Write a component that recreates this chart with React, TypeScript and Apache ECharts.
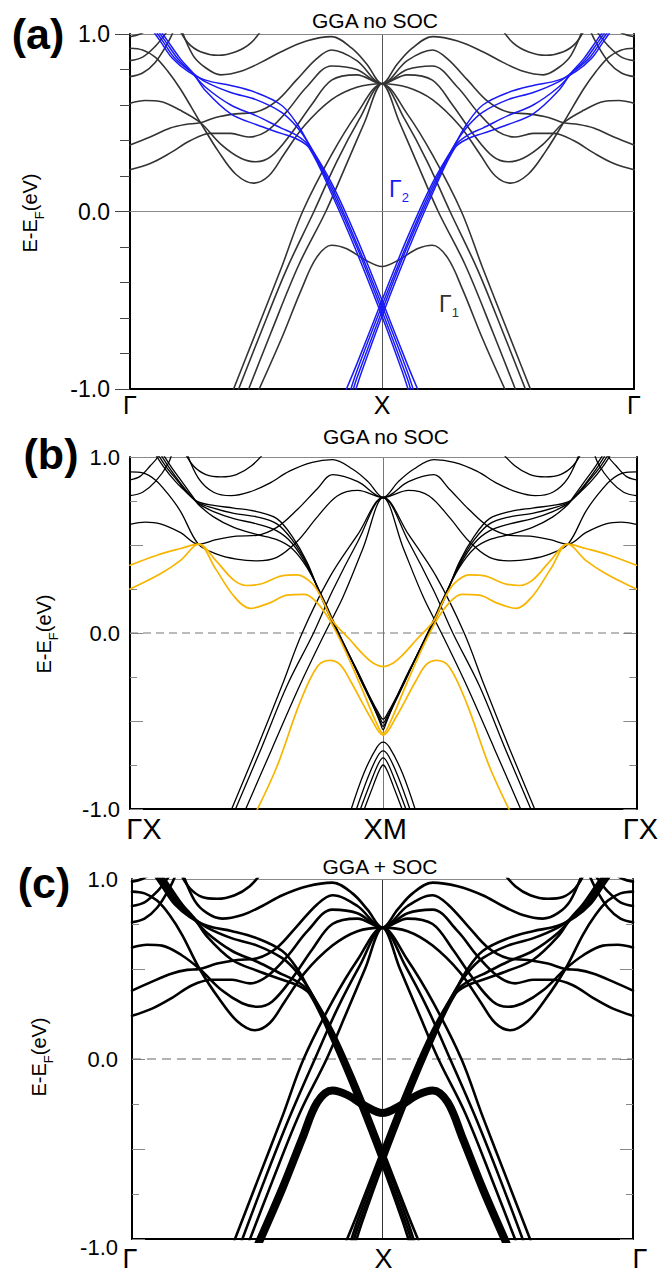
import React, { useEffect, useRef } from "react";
import * as echarts from "echarts";

type P = [number, number];

const FONT = "'Liberation Sans', Arial, Helvetica, sans-serif";

// ================= Panel (a): GGA no SOC =================
// Left halves of bands, k: 0 = Γ, 1 = X (mirrored to X–Γ), E in eV
const aTop1: P[] = [[0, 0.985], [0.04, 1.0], [0.09, 1.04]];
const aTop2: P[] = [[0, 0.85], [0.05, 0.87], [0.1, 0.93], [0.14, 1.0], [0.16, 1.04]];
const aTop3: P[] = [[0, 0.76], [0.05, 0.78], [0.1, 0.84], [0.15, 0.95], [0.18, 1.04]];
const aU1: P[] = [[0.19, 1.04], [0.23, 0.95], [0.28, 0.9], [0.35, 0.88], [0.42, 0.9], [0.48, 0.95], [0.53, 1.04]];
const aU2: P[] = [[0.2, 1.04], [0.25, 0.88], [0.3, 0.81], [0.36, 0.77], [0.44, 0.79], [0.52, 0.84], [0.6, 0.9], [0.7, 0.96], [0.8, 0.985], [0.88, 0.92], [0.94, 0.83], [1, 0.72]];
const aA: P[] = [[0, 0.92], [0.05, 0.91], [0.1, 0.87], [0.15, 0.79], [0.2, 0.69], [0.28, 0.5], [0.35, 0.34], [0.42, 0.21], [0.49, 0.16], [0.55, 0.2], [0.61, 0.32], [0.69, 0.48], [0.8, 0.63], [0.9, 0.7], [1, 0.72]];
const aB: P[] = [[0, 0.61], [0.06, 0.625], [0.12, 0.62], [0.2, 0.57], [0.28, 0.5], [0.36, 0.38], [0.44, 0.3], [0.5, 0.28], [0.56, 0.31], [0.64, 0.44], [0.72, 0.6], [0.8, 0.74], [0.9, 0.77], [1, 0.72]];
const aC: P[] = [[0, 0.235], [0.08, 0.27], [0.16, 0.33], [0.24, 0.4], [0.32, 0.44], [0.4, 0.44], [0.47, 0.42], [0.54, 0.45], [0.62, 0.56], [0.7, 0.7], [0.8, 0.82], [0.9, 0.8], [1, 0.72]];
const aD: P[] = [[0, 0.375], [0.08, 0.42], [0.16, 0.47], [0.22, 0.49], [0.28, 0.5], [0.34, 0.53], [0.42, 0.55], [0.5, 0.56], [0.58, 0.62], [0.66, 0.74], [0.74, 0.86], [0.8, 0.91], [0.9, 0.85], [1, 0.72]];
const aS1: P[] = [[0.4, -1.04], [0.5, -0.68], [0.6, -0.32], [0.685, 0], [0.8, 0.32], [0.9, 0.55], [1, 0.72]];
const aS2: P[] = [[0.42, -1.04], [0.52, -0.68], [0.62, -0.33], [0.73, 0], [0.82, 0.28], [0.91, 0.52], [1, 0.72]];
const aS3: P[] = [[0.46, -1.04], [0.56, -0.68], [0.67, -0.3], [0.777, 0], [0.86, 0.27], [0.93, 0.5], [1, 0.72]];
const aG1: P[] = [[0.5, -1.04], [0.6, -0.72], [0.68, -0.44], [0.74, -0.26], [0.8, -0.19], [0.86, -0.21], [0.93, -0.27], [1, -0.31]];
// Γ2 (blue) bands run through X; mirrored copies added
const aBlue1: P[] = [[0.08, 1.04], [0.12, 0.96], [0.17, 0.86], [0.23, 0.79], [0.3, 0.74], [0.4, 0.71], [0.5, 0.67], [0.6, 0.6], [0.66, 0.5], [0.71, 0.38], [0.8, 0.16], [0.9, -0.15], [1.0, -0.5], [1.1, -0.86], [1.15, -1.03]];
const aBlue2: P[] = [[0.09, 1.04], [0.13, 0.96], [0.18, 0.86], [0.24, 0.79], [0.3, 0.73], [0.4, 0.67], [0.5, 0.63], [0.6, 0.56], [0.66, 0.48], [0.71, 0.38], [0.8, 0.14], [0.9, -0.18], [1.0, -0.53], [1.1, -0.9], [1.13, -1.03]];
const aBlue3: P[] = [[0.1, 1.04], [0.14, 0.96], [0.19, 0.86], [0.24, 0.79], [0.3, 0.7], [0.4, 0.6], [0.5, 0.54], [0.6, 0.47], [0.66, 0.43], [0.71, 0.37], [0.8, 0.12], [0.9, -0.2], [1.0, -0.56], [1.1, -0.94], [1.12, -1.03]];
const aBlue4: P[] = [[0.11, 1.04], [0.15, 0.96], [0.2, 0.86], [0.25, 0.78], [0.3, 0.68], [0.4, 0.55], [0.5, 0.49], [0.6, 0.44], [0.66, 0.41], [0.71, 0.36], [0.8, 0.1], [0.9, -0.23], [1.0, -0.59], [1.08, -0.9], [1.11, -1.03]];

// ================= Panel (b): GGA no SOC (ΓX–XM–ΓX) =================
const bTop1: P[] = [[0, 0.87], [0.04, 0.89], [0.08, 0.95], [0.11, 1.0], [0.12, 1.04]];
const bTop2: P[] = [[0, 0.78], [0.05, 0.8], [0.1, 0.86], [0.15, 0.96], [0.17, 1.04]];
const bU1: P[] = [[0.21, 1.04], [0.25, 0.95], [0.3, 0.9], [0.36, 0.887], [0.42, 0.9], [0.48, 0.95], [0.54, 1.04]];
const bU2: P[] = [[0.22, 1.04], [0.27, 0.88], [0.33, 0.8], [0.4, 0.78], [0.47, 0.8], [0.55, 0.85], [0.63, 0.92], [0.72, 0.97], [0.8, 0.985], [0.88, 0.93], [0.94, 0.86], [1, 0.77]];
const bDiag: P[] = [[0, 0.916], [0.05, 0.91], [0.1, 0.87], [0.15, 0.79], [0.2, 0.69], [0.27, 0.505], [0.34, 0.45], [0.42, 0.42], [0.5, 0.41], [0.58, 0.43], [0.66, 0.52], [0.74, 0.66], [0.82, 0.78], [0.9, 0.81], [1, 0.77]];
const bD: P[] = [[0, 0.617], [0.06, 0.63], [0.12, 0.62], [0.2, 0.57], [0.27, 0.505], [0.34, 0.53], [0.42, 0.55], [0.5, 0.555], [0.58, 0.6], [0.66, 0.7], [0.74, 0.82], [0.8, 0.9], [0.9, 0.86], [1, 0.77]];
const bV1: P[] = [[0.09, 1.04], [0.13, 0.95], [0.18, 0.86], [0.23, 0.79], [0.27, 0.745], [0.33, 0.725], [0.41, 0.71], [0.5, 0.69], [0.58, 0.65], [0.64, 0.55], [0.7, 0.4], [0.75, 0.22], [0.8, 0.06], [0.85, -0.08], [0.9, -0.22], [0.95, -0.37], [0.98, -0.45], [1, -0.49]];
const bV2: P[] = [[0.1, 1.04], [0.14, 0.95], [0.19, 0.86], [0.23, 0.79], [0.27, 0.74], [0.33, 0.71], [0.41, 0.68], [0.5, 0.66], [0.58, 0.62], [0.64, 0.53], [0.7, 0.39], [0.755, 0.21], [0.805, 0.05], [0.855, -0.1], [0.905, -0.24], [0.955, -0.39], [0.983, -0.47], [1, -0.51]];
const bV3: P[] = [[0.11, 1.04], [0.15, 0.95], [0.2, 0.85], [0.24, 0.78], [0.27, 0.735], [0.33, 0.69], [0.41, 0.65], [0.5, 0.62], [0.58, 0.58], [0.64, 0.51], [0.7, 0.38], [0.76, 0.2], [0.81, 0.04], [0.86, -0.11], [0.91, -0.26], [0.96, -0.41], [0.985, -0.49], [1, -0.53]];
const bV4: P[] = [[0.12, 1.04], [0.16, 0.95], [0.21, 0.85], [0.25, 0.77], [0.27, 0.73], [0.33, 0.66], [0.41, 0.6], [0.5, 0.56], [0.58, 0.53], [0.64, 0.48], [0.7, 0.37], [0.765, 0.19], [0.815, 0.03], [0.865, -0.12], [0.915, -0.28], [0.965, -0.43], [0.988, -0.51], [1, -0.55]];
const bS1: P[] = [[0.39, -1.04], [0.5, -0.66], [0.6, -0.3], [0.68, 0], [0.79, 0.32], [0.9, 0.56], [1, 0.77]];
const bS2: P[] = [[0.405, -1.04], [0.52, -0.65], [0.62, -0.3], [0.725, 0], [0.8, 0.24], [0.9, 0.52], [1, 0.77]];
const bS3: P[] = [[0.445, -1.04], [0.56, -0.66], [0.67, -0.3], [0.77, 0], [0.84, 0.2], [0.92, 0.48], [1, 0.77]];
const bL1: P[] = [[0.865, -1.04], [0.923, -0.8], [0.975, -0.65], [1, -0.62]];
const bL2: P[] = [[0.885, -1.04], [0.94, -0.82], [0.978, -0.7], [1, -0.67]];
const bL3: P[] = [[0.9, -1.04], [0.95, -0.85], [0.982, -0.74], [1, -0.71]];
const bL4: P[] = [[0.915, -1.04], [0.96, -0.87], [0.985, -0.78], [1, -0.75]];
const bO1: P[] = [[0, 0.385], [0.107, 0.442], [0.2, 0.48], [0.27, 0.505], [0.34, 0.41], [0.41, 0.3], [0.46, 0.27], [0.52, 0.28], [0.6, 0.325], [0.66, 0.33], [0.72, 0.28], [0.76, 0.19], [0.8, 0.07], [0.87, -0.04], [0.92, -0.12], [0.96, -0.17], [1, -0.19]];
const bO2: P[] = [[0, 0.25], [0.12, 0.337], [0.2, 0.413], [0.27, 0.505], [0.34, 0.36], [0.41, 0.21], [0.475, 0.14], [0.55, 0.17], [0.62, 0.215], [0.69, 0.22], [0.74, 0.17], [0.79, 0.07], [0.85, -0.1], [0.92, -0.33], [0.97, -0.5], [1, -0.57]];
const bO3: P[] = [[0.49, -1.04], [0.58, -0.76], [0.67, -0.4], [0.74, -0.19], [0.79, -0.155], [0.83, -0.18], [0.87, -0.27], [0.95, -0.48], [1, -0.58]];

// ================= Panel (c): GGA + SOC =================
const cTop1: P[] = [[0, 0.985], [0.04, 1.0], [0.09, 1.04]];
const cTop2: P[] = [[0, 0.85], [0.05, 0.87], [0.1, 0.93], [0.14, 1.0], [0.16, 1.04]];
const cTop3: P[] = [[0, 0.76], [0.05, 0.78], [0.1, 0.84], [0.15, 0.95], [0.18, 1.04]];
const cU1: P[] = [[0.19, 1.04], [0.23, 0.95], [0.28, 0.9], [0.34, 0.89], [0.41, 0.91], [0.47, 0.96], [0.52, 1.04]];
const cU2: P[] = [[0.2, 1.04], [0.25, 0.88], [0.3, 0.81], [0.36, 0.78], [0.44, 0.8], [0.52, 0.85], [0.6, 0.91], [0.7, 0.96], [0.8, 0.98], [0.88, 0.92], [0.94, 0.83], [1, 0.73]];
const cA: P[] = [[0, 0.93], [0.05, 0.92], [0.1, 0.88], [0.15, 0.8], [0.2, 0.69], [0.27, 0.5], [0.35, 0.33], [0.42, 0.21], [0.49, 0.16], [0.55, 0.2], [0.61, 0.32], [0.69, 0.48], [0.8, 0.63], [0.9, 0.71], [1, 0.73]];
const cB: P[] = [[0, 0.62], [0.06, 0.635], [0.12, 0.63], [0.2, 0.575], [0.27, 0.5], [0.36, 0.38], [0.44, 0.31], [0.5, 0.29], [0.56, 0.32], [0.64, 0.45], [0.72, 0.61], [0.8, 0.75], [0.9, 0.78], [1, 0.73]];
const cC: P[] = [[0, 0.24], [0.08, 0.28], [0.16, 0.34], [0.24, 0.41], [0.32, 0.44], [0.4, 0.44], [0.47, 0.42], [0.54, 0.46], [0.62, 0.57], [0.7, 0.71], [0.8, 0.83], [0.9, 0.81], [1, 0.73]];
const cD: P[] = [[0, 0.38], [0.08, 0.43], [0.16, 0.475], [0.22, 0.495], [0.27, 0.5], [0.34, 0.53], [0.42, 0.55], [0.5, 0.56], [0.58, 0.62], [0.66, 0.74], [0.74, 0.86], [0.8, 0.91], [0.9, 0.85], [1, 0.73]];
const cS1: P[] = [[0.4, -1.04], [0.5, -0.68], [0.6, -0.32], [0.685, 0], [0.8, 0.32], [0.9, 0.55], [1, 0.73]];
const cS2: P[] = [[0.43, -1.04], [0.53, -0.67], [0.63, -0.32], [0.73, 0], [0.82, 0.28], [0.91, 0.52], [1, 0.73]];
const cS3: P[] = [[0.46, -1.04], [0.56, -0.68], [0.67, -0.3], [0.777, 0], [0.86, 0.27], [0.93, 0.5], [1, 0.73]];
const cG1: P[] = [[0.5, -1.04], [0.6, -0.72], [0.68, -0.44], [0.74, -0.24], [0.8, -0.175], [0.86, -0.2], [0.93, -0.26], [1, -0.3]];
const cX1: P[] = [[0.08, 1.04], [0.12, 0.96], [0.17, 0.86], [0.23, 0.79], [0.3, 0.74], [0.4, 0.71], [0.5, 0.67], [0.6, 0.6], [0.66, 0.5], [0.71, 0.38], [0.8, 0.16], [0.9, -0.15], [1.0, -0.5], [1.1, -0.86], [1.15, -1.03]];
const cX2: P[] = [[0.09, 1.04], [0.13, 0.96], [0.18, 0.86], [0.24, 0.79], [0.3, 0.73], [0.4, 0.67], [0.5, 0.63], [0.6, 0.56], [0.66, 0.48], [0.71, 0.38], [0.8, 0.14], [0.9, -0.18], [1.0, -0.53], [1.1, -0.9], [1.13, -1.03]];
const cX3: P[] = [[0.1, 1.04], [0.14, 0.96], [0.19, 0.86], [0.24, 0.79], [0.3, 0.7], [0.4, 0.6], [0.5, 0.54], [0.6, 0.47], [0.66, 0.43], [0.71, 0.37], [0.8, 0.12], [0.9, -0.2], [1.0, -0.56], [1.1, -0.94], [1.12, -1.03]];
const cX4: P[] = [[0.11, 1.04], [0.15, 0.96], [0.2, 0.86], [0.25, 0.78], [0.3, 0.68], [0.4, 0.55], [0.5, 0.49], [0.6, 0.44], [0.66, 0.41], [0.71, 0.36], [0.8, 0.1], [0.9, -0.23], [1.0, -0.59], [1.08, -0.9], [1.11, -1.03]];

// ================= Labels =================
const xLabelsA = ["Γ", "X", "Γ"];
const xLabelsB = ["ΓX", "XM", "ΓX"];
const xLabelsC = ["Γ", "X", "Γ"];
const yTickLabels = ["-1.0", "0.0", "1.0"];
const titles = ["GGA no SOC", "GGA no SOC", "GGA + SOC"];
const panelTags = ["(a)", "(b)", "(c)"];

function mirrorPts(b: P[]): P[] {
  return b.map(([k, e]) => [2 - k, e] as P);
}
function symmetric(half: P[]): P[][] {
  const last = half[half.length - 1];
  if (last[0] === 1) {
    const back = half.slice(0, -1).reverse().map(([k, e]) => [2 - k, e] as P);
    return [half.concat(back)];
  }
  return [half, mirrorPts(half)];
}
function crossing(b: P[]): P[][] {
  return [b, mirrorPts(b)];
}

function lineSeries(data: P[], g: number, color: string, width: number, z = 2): any {
  return {
    type: "line",
    xAxisIndex: g * 2,
    yAxisIndex: g * 2,
    data,
    symbol: "none",
    showSymbol: false,
    smooth: 0.35,
    silent: true,
    animation: false,
    clip: true,
    z,
    lineStyle: { color, width, cap: "round", join: "round" },
  };
}

function xAxes(g: number, labels: string[], shifts: number[], fontSize: number, margin: number, splitColor: string): any[] {
  const rich: any = {};
  shifts.forEach((s, i) => {
    rich["p" + i] = {
      fontSize,
      fontFamily: FONT,
      color: "#000",
      padding: s >= 0 ? [0, 0, 0, 2 * s] : [0, -2 * s, 0, 0],
    };
  });
  return [
    {
      gridIndex: g,
      type: "value",
      position: "bottom",
      min: 0,
      max: 2,
      interval: 1,
      axisLine: { show: true, onZero: false, lineStyle: { color: "#000", width: 2 } },
      axisTick: { show: false },
      axisLabel: {
        show: true,
        showMinLabel: true,
        showMaxLabel: true,
        margin,
        formatter: (v: number) => {
          const i = Math.round(v);
          return `{p${i}|${labels[i]}}`;
        },
        rich,
      },
      splitLine: { show: true, lineStyle: { color: splitColor, width: 1 } },
    },
    {
      gridIndex: g,
      type: "value",
      position: "top",
      min: 0,
      max: 2,
      interval: 1,
      axisLine: { show: true, onZero: false, lineStyle: { color: "#888", width: 1 } },
      axisTick: { show: false },
      axisLabel: { show: false },
      splitLine: { show: false },
    },
  ];
}

function yAxes(
  g: number,
  o: { interval: number; split: number; inside: boolean; major: number; minor: number; rightTicks: boolean; fontSize: number; margin: number; tickColor: string; lowShift: number }
): any[] {
  const tick = { show: true, inside: o.inside, length: o.major, lineStyle: { color: o.tickColor, width: 1 } };
  const minor = { show: true, splitNumber: o.split, length: o.minor, lineStyle: { color: o.tickColor, width: 1 } };
  return [
    {
      gridIndex: g,
      type: "value",
      position: "left",
      min: -1,
      max: 1,
      interval: o.interval,
      axisLine: { show: true, onZero: false, lineStyle: { color: "#000", width: 2 } },
      axisTick: tick,
      minorTick: minor,
      axisLabel: {
        show: true,
        showMinLabel: true,
        showMaxLabel: true,
        margin: o.margin,
        fontSize: o.fontSize,
        fontFamily: FONT,
        color: "#000",
        formatter: (v: number) => {
          if (Math.abs(v - Math.round(v)) > 1e-6) return "";
          const i = Math.round(v) + 1;
          if (i === 0 && o.lowShift > 0) return `{lo|${yTickLabels[i]}}`;
          return yTickLabels[i];
        },
        rich: { lo: { fontSize: o.fontSize, fontFamily: FONT, color: "#000", padding: [o.lowShift * 2, 0, 0, 0] } },
      },
      splitLine: { show: false },
      minorSplitLine: { show: false },
    },
    {
      gridIndex: g,
      type: "value",
      position: "right",
      min: -1,
      max: 1,
      interval: o.interval,
      axisLine: { show: true, onZero: false, lineStyle: { color: "#000", width: 2 } },
      axisTick: o.rightTicks ? tick : { show: false },
      minorTick: o.rightTicks ? minor : { show: false },
      axisLabel: { show: false },
      splitLine: { show: false },
    },
  ];
}

function zeroLine(g: number, color: string, type: any): any {
  return {
    type: "line",
    xAxisIndex: g * 2,
    yAxisIndex: g * 2,
    data: [[0, 0], [2, 0]],
    symbol: "none",
    showSymbol: false,
    silent: true,
    animation: false,
    z: 1,
    lineStyle: { color, width: 1, type },
  };
}

function yTitle(x: number, y: number): any {
  return {
    type: "text",
    x,
    y,
    rotation: Math.PI / 2,
    style: {
      text: "{m|E-E}{s|F}{m|(eV)}",
      align: "center",
      verticalAlign: "middle",
      rich: {
        m: { fontSize: 20, fontFamily: FONT, fill: "#000", lineHeight: 31 },
        s: { fontSize: 13, fontFamily: FONT, fill: "#000", lineHeight: 13, verticalAlign: "bottom" },
      },
    },
  };
}

function plainText(x: number, y: number, text: string, fontSize: number, bold = false): any {
  return {
    type: "text",
    x,
    y,
    style: {
      text,
      fontSize,
      fontFamily: FONT,
      fontWeight: bold ? "bold" : "normal",
      fill: "#000",
      align: "center",
      verticalAlign: "middle",
    },
  };
}

function gammaLabel(x: number, y: number, sub: string, color: string): any {
  return {
    type: "text",
    x,
    y,
    style: {
      text: `{g|Γ}{s|${sub}}`,
      align: "left",
      verticalAlign: "middle",
      rich: {
        g: { fontSize: 23, fontFamily: FONT, fill: color, lineHeight: 30 },
        s: { fontSize: 13, fontFamily: FONT, fill: color, lineHeight: 13, verticalAlign: "bottom" },
      },
    },
  };
}

function buildOption(): any {
  const series: any[] = [];
  // zero lines
  series.push(zeroLine(0, "#8a8a8a", "solid"));
  series.push(zeroLine(1, "#777", [8, 5]));
  series.push(zeroLine(2, "#666", [9, 6]));

  // panel (a)
  const aBlack = [aTop1, aTop2, aTop3, aU1, aU2, aA, aB, aC, aD, aS1, aS2, aS3, aG1];
  aBlack.forEach((h) => symmetric(h).forEach((d) => series.push(lineSeries(d, 0, "#333", 1.6, 2))));
  [aBlue1, aBlue2, aBlue3, aBlue4].forEach((b) => crossing(b).forEach((d) => series.push(lineSeries(d, 0, "#1a1af5", 1.5, 3))));

  // panel (b)
  const bBlack = [bTop1, bTop2, bU1, bU2, bDiag, bD, bS1, bS2, bS3, bV1, bV2, bV3, bV4, bL1, bL2, bL3, bL4];
  bBlack.forEach((h) => symmetric(h).forEach((d) => series.push(lineSeries(d, 1, "#000", 1.3, 2))));
  [bO1, bO2, bO3].forEach((h) => symmetric(h).forEach((d) => series.push(lineSeries(d, 1, "#f7b500", 1.7, 3))));

  // panel (c)
  const cBlack = [cTop1, cTop2, cTop3, cU1, cU2, cA, cB, cC, cD, cS1, cS2, cS3];
  cBlack.forEach((h) => symmetric(h).forEach((d) => series.push(lineSeries(d, 2, "#000", 2.6, 2))));
  [cX1, cX2, cX3, cX4].forEach((b) => crossing(b).forEach((d) => series.push(lineSeries(d, 2, "#000", 2.6, 2))));
  symmetric(cG1).forEach((d) => series.push(lineSeries(d, 2, "#000", 8, 2)));

  return {
    animation: false,
    backgroundColor: "#fff",
    grid: [
      { left: 130, top: 34, width: 504, height: 355 },
      { left: 130, top: 457, width: 507, height: 352 },
      { left: 132, top: 879, width: 501, height: 360 },
    ],
    xAxis: [
      ...xAxes(0, xLabelsA, [0, 0, 0], 25, 3, "#555"),
      ...xAxes(1, xLabelsB, [14, 2, 4], 29, 5, "#777"),
      ...xAxes(2, xLabelsC, [-2, 1, 7], 27, 6, "#333"),
    ],
    yAxis: [
      ...yAxes(0, { interval: 1, split: 5, inside: false, major: 15, minor: 10, rightTicks: false, fontSize: 23, margin: 20, tickColor: "#444", lowShift: 0 }),
      ...yAxes(1, { interval: 0.5, split: 2, inside: true, major: 13, minor: 7, rightTicks: true, fontSize: 22, margin: 10, tickColor: "#888", lowShift: 0 }),
      ...yAxes(2, { interval: 0.5, split: 2, inside: true, major: 13, minor: 7, rightTicks: true, fontSize: 22, margin: 14, tickColor: "#888", lowShift: 8 }),
    ],
    series,
    graphic: [
      plainText(375, 20, titles[0], 21),
      plainText(386, 436, titles[1], 21),
      plainText(380, 866, titles[2], 21),
      plainText(38, 34, panelTags[0], 43, true),
      plainText(51, 454, panelTags[1], 43, true),
      plainText(44, 883, panelTags[2], 43, true),
      yTitle(30, 213),
      yTitle(44, 634),
      yTitle(39, 1057),
      gammaLabel(389, 189, "2", "#1a1af5"),
      gammaLabel(439, 304, "1", "#333"),
    ],
  };
}

export default function App() {
  const ref = useRef<HTMLDivElement>(null);
  useEffect(() => {
    const chart = echarts.init(ref.current!, undefined, { renderer: "svg" });
    chart.setOption(buildOption());
    return () => chart.dispose();
  }, []);
  return (
    <div
      ref={ref}
      style={{ position: "absolute", left: 0, top: 0, width: 661, height: 1272, background: "#fff" }}
    />
  );
}
